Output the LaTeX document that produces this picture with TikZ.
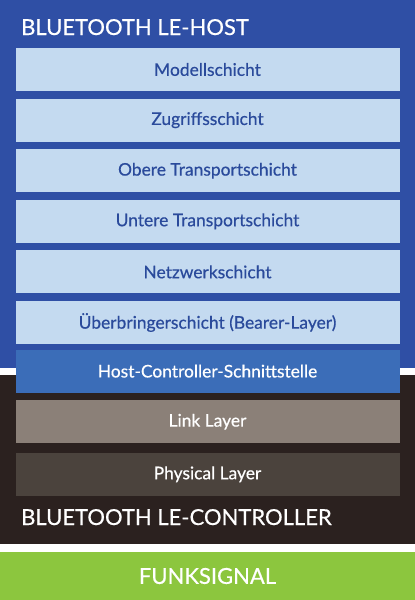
\documentclass[tikz,border=0pt]{standalone}
\usepackage{fontspec}
\setmainfont{Lato}[FakeBold=0.5]
\definecolor{hostbg}{HTML}{2F4FA5}
\definecolor{lightbox}{HTML}{C4DAF0}
\definecolor{lighttext}{HTML}{2A4A9B}
\definecolor{hcibox}{HTML}{3B6DB8}
\definecolor{linkbox}{HTML}{8B8078}
\definecolor{physbox}{HTML}{4B433D}
\definecolor{ctrlbg}{HTML}{2B211F}
\definecolor{funkgreen}{HTML}{8CC63E}
\tikzset{
  layerbox/.style={minimum width=384pt, minimum height=43pt, inner sep=0pt,
    font=\fontsize{17.4}{20}\selectfont},
  hostlayer/.style={layerbox, fill=lightbox, text=lighttext},
  title/.style={anchor=base west, text=white, inner sep=0pt, font=\fontsize{22}{26}\selectfont}
}
\begin{document}
\begin{tikzpicture}[x=1pt,y=-1pt]
\useasboundingbox (0,0) rectangle (415,600);
\fill[white] (0,0) rectangle (415,600);
\fill[hostbg] (0,0) rectangle (415,368);
\fill[ctrlbg] (0,375) rectangle (415,544);
\fill[funkgreen] (0,552) rectangle (415,600);
\node[title] (hosttitle) at (21,35) {BLUETOOTH LE-HOST};
\node[hostlayer] (modell) at (207.5,69.5) {Modellschicht};
\node[hostlayer] (zugriff) at (207.5,120.1) {Zugriffsschicht};
\node[hostlayer] (obere) at (207.5,170.7) {Obere Transportschicht};
\node[hostlayer] (untere) at (207.5,221.3) {Untere Transportschicht};
\node[hostlayer] (netz) at (207.5,271.9) {Netzwerkschicht};
\node[hostlayer] (bearer) at (207.5,322.5) {Überbringerschicht (Bearer-Layer)};
\node[layerbox, fill=hcibox, text=white] (hci) at (207.5,371.1) {Host-Controller-Schnittstelle};
\node[layerbox, fill=linkbox, text=white] (link) at (207.5,421.7) {Link Layer};
\node[layerbox, fill=physbox, text=white] (phys) at (207.5,474.3) {Physical Layer};
\node[title] (ctrltitle) at (21,525) {BLUETOOTH LE-CONTROLLER};
\node[text=white, inner sep=0pt, font=\fontsize{22}{26}\selectfont] (funk) at (207.5,576) {FUNKSIGNAL};
\end{tikzpicture}
\end{document}
